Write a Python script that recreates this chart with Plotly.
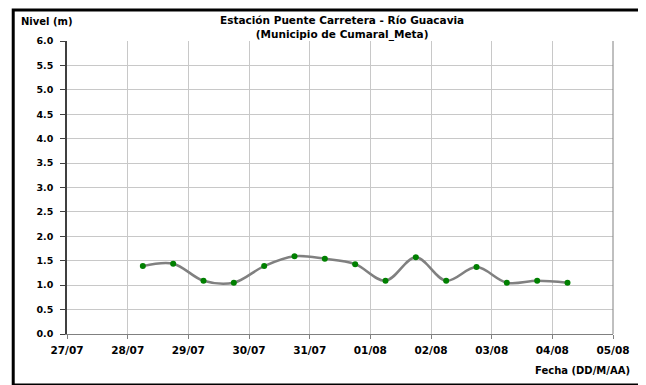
import plotly.graph_objects as go

##################################
## Data
##################################

fechas = [
    "2012-07-28 06:00", "2012-07-28 18:00",
    "2012-07-29 06:00", "2012-07-29 18:00",
    "2012-07-30 06:00", "2012-07-30 18:00",
    "2012-07-31 06:00", "2012-07-31 18:00",
    "2012-08-01 06:00", "2012-08-01 18:00",
    "2012-08-02 06:00", "2012-08-02 18:00",
    "2012-08-03 06:00", "2012-08-03 18:00",
    "2012-08-04 06:00",
]
nivel = [1.39, 1.44, 1.09, 1.05, 1.39, 1.59, 1.54, 1.43,
         1.09, 1.57, 1.09, 1.37, 1.05, 1.09, 1.05]

x_range = ["2012-07-27", "2012-08-05"]
y_range = [0, 6]

FONT = "DejaVu Sans"

##################################
## Chart
##################################

fig = go.Figure()

fig.add_trace(
    go.Scatter(
        x=fechas,
        y=nivel,
        mode="lines+markers",
        line=dict(color="#808080", width=2.5, shape="spline", smoothing=1),
        marker=dict(color="#008000", size=6),
        showlegend=False,
    )
)

# the page body adds an 8px offset, margins account for it
fig.update_layout(
    width=646,
    height=385,
    margin=dict(l=59, r=41, t=33, b=59),
    paper_bgcolor="white",
    plot_bgcolor="white",
    font=dict(family=FONT, size=10, color="black", weight="bold"),
)

fig.update_xaxes(
    type="date",
    range=x_range,
    dtick=86400000,
    tickformat="%d/%m",
    showgrid=True,
    gridcolor="#c8c8c8",
    gridwidth=1,
    showline=True,
    linecolor="#808080",
    linewidth=1,
    ticks="outside",
    ticklen=4,
    tickcolor="#808080",
    tickfont=dict(family=FONT, size=10.5, weight="bold"),
    ticklabelstandoff=2,
)

fig.update_yaxes(
    range=y_range,
    dtick=0.5,
    tickformat=".1f",
    showgrid=True,
    gridcolor="#c8c8c8",
    gridwidth=1,
    showline=True,
    linecolor="#404040",
    linewidth=1.5,
    ticks="outside",
    ticklen=5,
    tickcolor="#404040",
    zeroline=False,
    tickfont=dict(family=FONT, size=9.5, weight="bold"),
    ticklabelstandoff=5,
)

# right edge line of the plot area
fig.add_shape(type="line", xref="paper", yref="paper", x0=1, x1=1, y0=0, y1=1,
              line=dict(color="#808080", width=1))

# outer frame
fig.add_shape(type="rect", xref="paper", yref="paper",
              x0=-0.0985, x1=1.057, y0=-0.174, y1=1.106,
              line=dict(color="black", width=3))

fig.add_annotation(
    text="Estación Puente Carretera - Río Guacavia<br>(Municipio de Cumaral_Meta)",
    xref="paper", yref="paper", x=0.503, y=1.047,
    xanchor="center", yanchor="middle", showarrow=False,
    font=dict(family=FONT, size=10.5, weight="bold"),
)
fig.add_annotation(
    text="Nivel (m)", xref="paper", yref="paper", x=-0.087, y=1.067,
    xanchor="left", yanchor="middle", showarrow=False,
    font=dict(family=FONT, size=10, weight="bold"),
)
fig.add_annotation(
    text="Fecha (DD/M/AA)", xref="paper", yref="paper", x=1.034, y=-0.123,
    xanchor="right", yanchor="middle", showarrow=False,
    font=dict(family=FONT, size=10, weight="bold"),
)

fig.write_html("out.html")
